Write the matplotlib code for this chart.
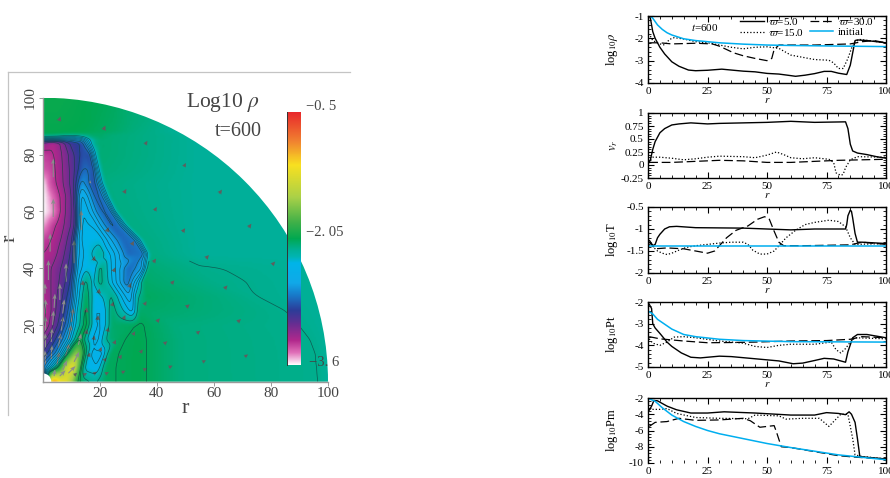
import numpy as np
import matplotlib
matplotlib.use("Agg")
import matplotlib.pyplot as plt
from matplotlib.cm import ScalarMappable
from matplotlib.colors import LinearSegmentedColormap, Normalize
from matplotlib.lines import Line2D
from matplotlib.patches import Wedge
from matplotlib.ticker import AutoMinorLocator, MultipleLocator

plt.rcParams["font.family"] = ["Liberation Serif", "DejaVu Serif"]
plt.rcParams["mathtext.fontset"] = "stix"
plt.rcParams["axes.unicode_minus"] = False

W, H = 890, 478

# density map: for each height, the r positions of 14 features and log10 rho at them
map_y = [0, 5, 10, 15, 20, 25, 30, 35, 40, 45, 50, 55, 60, 65, 70, 75, 80, 84.5, 86, 87.5, 88, 92, 100]
map_pos = [
    [0, 2.5, 4, 6, 8, 10, 12, 14, 18, 22, 33, 48, 97, 100],
    [0, 2, 4, 6, 8, 10, 13, 15, 19, 22, 33, 48, 96.5, 100],
    [0, 2.5, 5, 7, 9, 11.5, 14, 16.5, 20.5, 23.5, 33, 48, 96, 100],
    [0, 3, 6, 8.5, 10.5, 13, 16, 19, 23, 27, 33, 48, 94, 100],
    [0, 3, 6, 9, 11, 15, 18, 21, 24, 31, 34, 46, 90, 100],
    [0, 3, 7, 9.5, 11.5, 15, 18, 21, 24, 31.5, 33.5, 37, 85, 100],
    [0, 3, 7, 10, 11.5, 15, 18, 21, 24, 30.5, 33, 36, 75, 100],
    [0, 3, 7, 10, 11.5, 15, 17.5, 20, 23, 29.5, 33, 35, 60, 100],
    [0, 3, 7, 10.5, 12, 15, 18, 20, 24, 30, 35, 36.5, 55, 100],
    [0, 3, 7, 10.5, 12, 15, 20, 24, 30, 35.5, 36.2, 37.5, 55, 100],
    [0, 3, 7, 10.5, 11.8, 14, 20, 24, 28, 32.3, 33, 35, 55, 100],
    [0, 3, 7, 11, 12.3, 14, 18, 21, 24, 27.3, 28, 30, 55, 100],
    [0, 3, 7, 11, 12.3, 14, 17, 19, 21, 24, 24.5, 26, 55, 100],
    [0, 3, 6.5, 10.5, 12, 13.5, 16, 17.5, 19, 21.3, 22, 23.5, 55, 100],
    [0, 2, 6, 10.5, 12, 13.5, 15.5, 16.5, 17.5, 19.5, 20, 21.5, 55, 100],
    [0, 3, 7, 10.5, 12.5, 14, 16, 16.7, 17.5, 18.5, 19, 20.5, 55, 100],
    [0, 4, 8, 11, 13, 14.5, 15.5, 16, 16.5, 17.5, 18, 19.5, 55, 100],
    [0, 3, 6, 9, 11, 13, 14.5, 15, 16, 17, 17.5, 20, 55, 100],
    [0, 3, 6, 9, 12, 14, 16, 17, 18, 20, 22, 25, 55, 100],
    [0, 3, 6, 9, 12, 14, 16, 17, 18, 20, 22, 25, 55, 100],
    [0, 5, 10, 15, 20, 25, 30, 32, 35, 40, 45, 50, 55, 100],
    [0, 5, 10, 15, 20, 25, 30, 32, 35, 40, 45, 50, 55, 100],
    [0, 5, 10, 15, 20, 25, 30, 32, 35, 40, 45, 50, 55, 100],
]
map_val = [
    [-3.6, -1.0, -0.9, -1.2, -1.25, -1.6, -2.0, -2.12, -2.2, -2.08, -2.05, -2.14, -2.175, -2.2],
    [-2.75, -2.5, -2.2, -1.9, -1.4, -1.2, -1.95, -2.35, -2.4, -2.08, -2.05, -2.14, -2.175, -2.2],
    [-3.0, -2.85, -2.65, -2.35, -2.0, -1.6, -1.95, -2.4, -2.45, -2.08, -2.05, -2.14, -2.175, -2.2],
    [-3.15, -3.0, -2.8, -2.55, -2.25, -1.98, -2.35, -2.45, -2.12, -2.08, -2.05, -2.14, -2.175, -2.2],
    [-3.35, -3.15, -2.95, -2.7, -2.35, -2.0, -2.4, -2.4, -2.1, -2.08, -2.06, -2.14, -2.175, -2.2],
    [-3.35, -3.2, -2.95, -2.75, -2.35, -2.02, -2.4, -2.4, -2.1, -2.45, -2.1, -2.1, -2.175, -2.2],
    [-3.3, -3.2, -3.0, -2.8, -2.45, -2.05, -2.38, -2.3, -2.15, -2.6, -2.2, -2.08, -2.175, -2.2],
    [-3.27, -3.2, -3.05, -2.88, -2.5, -2.12, -2.35, -2.12, -2.3, -2.78, -2.4, -2.1, -2.165, -2.2],
    [-3.27, -3.2, -3.08, -2.92, -2.5, -2.33, -2.38, -2.12, -2.4, -2.8, -2.6, -2.12, -2.17, -2.2],
    [-3.3, -3.27, -3.13, -2.95, -2.55, -2.36, -2.22, -2.42, -2.8, -2.75, -2.45, -2.15, -2.2, -2.2],
    [-3.35, -3.3, -3.18, -3.0, -2.6, -2.36, -2.33, -2.6, -2.8, -2.75, -2.5, -2.15, -2.2, -2.2],
    [-3.5, -3.35, -3.22, -3.05, -2.65, -2.36, -2.42, -2.65, -2.82, -2.75, -2.5, -2.15, -2.2, -2.2],
    [-3.6, -3.5, -3.25, -3.05, -2.7, -2.38, -2.55, -2.72, -2.82, -2.75, -2.5, -2.15, -2.2, -2.2],
    [-3.6, -3.45, -3.28, -3.08, -2.75, -2.45, -2.6, -2.75, -2.85, -2.7, -2.5, -2.15, -2.2, -2.2],
    [-3.58, -3.4, -3.25, -3.05, -2.85, -2.65, -2.75, -2.82, -2.9, -2.65, -2.5, -2.15, -2.2, -2.2],
    [-3.4, -3.35, -3.2, -3.05, -2.9, -2.8, -2.8, -2.85, -2.9, -2.6, -2.45, -2.13, -2.2, -2.2],
    [-3.35, -3.3, -3.15, -3.0, -2.9, -2.85, -2.9, -2.9, -2.85, -2.55, -2.4, -2.12, -2.2, -2.2],
    [-3.2, -3.3, -3.2, -3.0, -2.95, -2.9, -2.75, -2.6, -2.45, -2.25, -2.15, -2.12, -2.2, -2.2],
    [-2.35, -2.35, -2.4, -2.5, -2.45, -2.35, -2.2, -2.15, -2.12, -2.1, -2.12, -2.13, -2.2, -2.2],
    [-2.06, -2.06, -2.08, -2.08, -2.08, -2.1, -2.1, -2.1, -2.1, -2.1, -2.12, -2.13, -2.2, -2.2],
    [-2.04, -2.04, -2.05, -2.06, -2.08, -2.1, -2.13, -2.14, -2.15, -2.17, -2.19, -2.19, -2.2, -2.2],
    [-2.03, -2.03, -2.04, -2.05, -2.07, -2.09, -2.12, -2.13, -2.14, -2.16, -2.18, -2.19, -2.2, -2.2],
    [-2.02, -2.02, -2.03, -2.05, -2.06, -2.08, -2.12, -2.13, -2.14, -2.16, -2.18, -2.19, -2.2, -2.2],
]

# map colours against log10 rho
cmap_vals = [-3.6, -3.45, -3.3, -3.1, -2.93, -2.75, -2.6, -2.35, -2.27, -2.2, -2.05, -1.85, -1.55, -1.15, -0.85, -0.5]
cmap_cols = ["#FFFFFF", "#E070B8", "#B0288C", "#662D91", "#2C3C98", "#1878C8", "#10A8E8", "#00B4E8",
             "#00B4B0", "#00B09A", "#00A850", "#40B048", "#A8D048", "#F8E020", "#F08030", "#E8262B"]
contour_levels = [-3.3, -3.2, -3.1, -3.0, -2.9, -2.8, -2.7, -2.6, -2.5, -2.4, -2.3]
low_contour_levels = [-2.175, -2.07, -2.0]
low_contour_top = 43

# velocity arrows, in r units
stub_x = [5.7, 21.3, 35.9, 49.5, 28.5, 61.9, 39.2, 72.2, 49, 22.5, 31.2, 38.8, 57.2, 80.4, 45.1, 63.7, 24.8, 50.3, 68.3, 40, 54, 70.8, 42.5, 56, 44.2, 35.3, 27.7, 21.9, 17.8, 14.3, 11, 34.2, 26.9, 25, 31.6, 28.3, 24.3, 35.6, 30.4, 17.9, 19.6, 14, 15.2, 19.2, 22.7, 17.8, 15.2, 20.1, 16, 21.5]
stub_y = [91.8, 88.6, 83.5, 75.7, 66.4, 66.3, 60.2, 54.3, 52.7, 52.8, 48.1, 42, 43.4, 41.1, 34.5, 32.7, 38.7, 26.2, 21, 21.1, 17, 8.8, 13.3, 6.9, 5, 4.1, 3.2, 2.7, 2.7, 2.3, 2.2, 10.2, 8.2, 13.3, 16.4, 22, 26.6, 27, 33.2, 42.6, 31.1, 34, 24.4, 21.7, 17.6, 14.7, 16.8, 10.8, 8.8, 7.3]
stub_u = [0.4, 0.5, 0.6, 0.5, 0.6, 0.7, 0.6, 0.7, 0.7, 0.5, 0.6, 0.7, 0.8, 0.8, 0.8, 0.8, 0.5, 0.9, 0.9, 0.8, 0.9, 0.9, 0.9, 0.9, 1.0, 1.0, 1.0, 1.0, 0.9, 0.9, 0.8, 0.7, 0.6, 0.5, 0.6, 0.5, 0.4, 0.6, 0.3, 0.2, 0.2, 0.1, 0.2, 0.2, 0.3, 0.3, 0.2, 0.4, 0.5, 0.7]
stub_v = [1.2, 1.2, 1.0, 1.0, 1.1, 1.0, 1.0, 1.0, 1.0, 1.2, 1.1, 1.0, 0.9, 0.9, 0.9, 0.9, 1.2, 0.8, 0.8, 0.9, 0.7, 0.6, 0.7, 0.5, 0.5, 0.5, 0.5, 0.5, 0.6, 0.6, 0.7, 0.9, 1.0, 1.1, 1.0, 1.1, 1.2, 1.0, 1.2, 1.3, 1.3, 1.3, 1.3, 1.3, 1.2, 1.2, 1.3, 1.1, 1.1, 0.9]
jet_x = [3.7, 3.7, 2.6, 2.0, 0.8, 8.2, 6.0, 11.0, 13.5, 16.6, 1, 1, 1, 1, 3, 3, 3.5, 4, 5, 5.5, 6.5, 7, 7, 8, 9, 10, 6, 9, 11, 12.5, 4]
jet_y = [72, 58, 45.8, 35.8, 31, 35.2, 28.8, 41.7, 53.4, 69.8, 6, 12, 18, 24, 8, 14, 20, 26, 6, 12, 18, 24, 4, 9, 15, 21, 2, 3, 7, 13, 2]
jet_u = [0, 0, 0, 0, 0, 0, 0, 0, 0, 0, -0.2, -0.1, 0, 0, 0.2, 0.2, 0.3, 0.3, 0.8, 0.8, 0.7, 0.6, 1.5, 1.3, 1, 0.8, 2, 2.5, 1.8, 1, 0.3]
jet_v = [6.6, 6.5, 6.4, 7, 3.6, 6.5, 5.8, 8.2, 7, 1.2, 5, 5, 5, 5, 5, 5, 5, 5, 4.5, 5, 5, 5, 3.5, 4.5, 5, 5, 2, 2.5, 3.5, 4, 2.5]

# profile panels: r positions and values per cylindrical radius
r_ticks = [0, 25, 50, 75, 100]

rho_r5 = [0.5, 1, 2, 3, 5, 7, 10, 13, 17, 20, 25, 31, 35, 40, 45, 50, 55, 60, 62, 66, 70, 74, 77, 80, 83.5, 85, 87, 88, 92, 100]
rho_v5 = [-1, -1.1, -1.7, -2.0, -2.4, -2.7, -3.05, -3.25, -3.42, -3.45, -3.43, -3.38, -3.42, -3.47, -3.5, -3.57, -3.6, -3.67, -3.7, -3.65, -3.58, -3.48, -3.48, -3.56, -3.62, -3.2, -2.1, -2.07, -2.1, -2.2]
rho_r15 = [1, 2, 5, 7, 9, 11, 15, 20, 25, 30, 35, 40, 45, 50, 55, 60, 65, 70, 76, 78, 80, 82, 84, 85.5, 87, 89, 100]
rho_v15 = [-1.9, -2.1, -2.25, -2.3, -2.05, -1.97, -2.03, -2.15, -2.2, -2.3, -2.4, -2.47, -2.4, -2.38, -2.45, -2.75, -2.85, -2.95, -2.98, -3.1, -3.35, -3.35, -2.9, -2.45, -2.15, -2.05, -2.2]
rho_r30 = [0.5, 5, 10, 20, 27, 30, 33, 36, 40, 45, 50, 52, 53, 55, 60, 70, 85, 90, 95, 100]
rho_v30 = [-2.2, -2.2, -2.25, -2.22, -2.25, -2.35, -2.5, -2.65, -2.78, -2.9, -3, -2.9, -2.5, -2.3, -2.3, -2.3, -2.25, -2.15, -2.1, -2.2]
rho_r0 = [0.5, 2, 4, 6, 8, 10, 15, 20, 25, 30, 40, 50, 60, 75, 100]
rho_v0 = [-0.95, -1.1, -1.4, -1.6, -1.75, -1.85, -2.02, -2.1, -2.15, -2.2, -2.26, -2.3, -2.32, -2.34, -2.37]

vr_r5 = [0.5, 1, 2, 3, 5, 7, 10, 13, 18, 25, 30, 40, 50, 60, 70, 83, 84, 85, 86, 88, 92, 96, 100]
vr_v5 = [0.05, 0.1, 0.3, 0.45, 0.62, 0.7, 0.77, 0.79, 0.81, 0.79, 0.8, 0.81, 0.82, 0.84, 0.82, 0.83, 0.7, 0.4, 0.27, 0.23, 0.2, 0.16, 0.13]
vr_r15 = [1, 2, 5, 10, 15, 20, 25, 30, 40, 45, 50, 54, 57, 60, 65, 70, 76, 78, 79, 81, 82, 83, 85, 88, 100]
vr_v15 = [0.1, 0.15, 0.15, 0.13, 0.1, 0.12, 0.15, 0.17, 0.16, 0.14, 0.19, 0.25, 0.2, 0.14, 0.12, 0.14, 0.11, 0.05, -0.15, -0.2, -0.18, -0.05, 0.1, 0.16, 0.15]
vr_r30 = [0.5, 10, 20, 30, 40, 50, 60, 70, 80, 90, 100]
vr_v30 = [0.05, 0.05, 0.07, 0.09, 0.08, 0.05, 0.05, 0.07, 0.09, 0.1, 0.11]

t_r5 = [0.5, 2, 3, 4, 5, 7, 9, 12, 20, 40, 50, 60, 70, 83, 83.5, 84, 85, 85.5, 86, 87, 88, 90, 100]
t_v5 = [-1.3, -1.38, -1.35, -1.2, -1.12, -1.0, -0.95, -0.94, -0.97, -0.98, -1.0, -1.02, -1.0, -1.0, -0.9, -0.7, -0.57, -0.6, -0.75, -1.1, -1.3, -1.3, -1.33]
t_r15 = [0.5, 2, 4, 6, 8, 10, 13, 16, 20, 30, 35, 40, 42, 44, 47, 50, 53, 55, 58, 62, 66, 70, 76, 80, 83, 85, 87, 100]
t_v15 = [-1.35, -1.4, -1.5, -1.55, -1.58, -1.55, -1.48, -1.42, -1.38, -1.32, -1.3, -1.3, -1.35, -1.48, -1.57, -1.57, -1.5, -1.38, -1.2, -1.03, -0.9, -0.85, -0.8, -0.83, -0.95, -1.2, -1.35, -1.33]
t_r30 = [0.5, 3, 8, 15, 20, 25, 28, 30, 33, 37, 42, 46, 49, 51, 53, 55, 57, 65, 75, 85, 90, 100]
t_v30 = [-1.25, -1.45, -1.43, -1.45, -1.5, -1.55, -1.5, -1.38, -1.2, -1.03, -0.93, -0.78, -0.72, -0.78, -1.05, -1.3, -1.38, -1.38, -1.37, -1.36, -1.3, -1.35]
t_r0 = [0.5, 100]
t_v0 = [-1.39, -1.39]

pt_r5 = [0.5, 1.5, 2, 3, 5, 8, 10, 14, 18, 22, 30, 35, 45, 55, 61, 65, 70, 74, 78, 83, 84, 86, 88, 92, 100]
pt_v5 = [-2.1, -2.3, -3.0, -3.2, -3.45, -3.85, -4.05, -4.35, -4.55, -4.58, -4.5, -4.52, -4.62, -4.72, -4.85, -4.82, -4.7, -4.6, -4.63, -4.78, -4.3, -3.65, -3.5, -3.5, -3.65]
pt_r15 = [0.5, 2, 5, 8, 11, 15, 20, 30, 40, 45, 50, 55, 60, 70, 77, 79, 81, 83, 85, 87, 100]
pt_v15 = [-3.7, -3.9, -4.0, -3.85, -3.62, -3.6, -3.65, -3.8, -3.9, -4.05, -4.1, -4.0, -3.95, -3.95, -3.85, -4.2, -4.35, -4.15, -3.85, -3.65, -3.7]
pt_r30 = [0.5, 5, 15, 25, 35, 45, 60, 75, 85, 90, 100]
pt_v30 = [-3.6, -3.7, -3.8, -3.88, -3.87, -3.85, -3.8, -3.78, -3.72, -3.6, -3.65]
pt_r0 = [0.5, 2, 4, 6, 8, 10, 15, 20, 30, 40, 60, 100]
pt_v0 = [-2.45, -2.55, -2.8, -2.95, -3.1, -3.25, -3.5, -3.6, -3.72, -3.78, -3.83, -3.85]

pm_r5 = [0.5, 1.5, 2.5, 4, 8, 12, 18, 25, 32, 45, 60, 70, 75, 80, 83, 84.5, 85.5, 87, 88, 89, 92, 100]
pm_v5 = [-3.5, -3, -2.3, -2.35, -3, -3.45, -3.85, -3.85, -3.7, -3.85, -4.1, -4.1, -3.8, -3.9, -4.05, -3.7, -4, -5, -7, -9.2, -9.3, -9.5]
pm_r15 = [0.5, 5, 8, 12, 20, 30, 42, 45, 55, 58, 65, 72, 76, 79, 81, 84, 86, 87, 90, 100]
pm_v15 = [-3.4, -3.4, -3.3, -3.9, -4.4, -4.5, -4.55, -4.1, -4.2, -4.6, -4.5, -4.5, -5.5, -4.6, -4, -4, -7, -9, -9.2, -9.5]
pm_r30 = [0.5, 3, 8, 13, 20, 30, 40, 43, 47, 50, 53, 54, 56, 60, 70, 80, 88, 100]
pm_v30 = [-5.5, -5, -4.9, -4.5, -4.75, -4.7, -4.5, -4.8, -5.6, -5.5, -5.4, -6.2, -8, -8.1, -8.6, -9.1, -9.3, -9.5]
pm_r0 = [0.5, 3, 6, 10, 15, 20, 25, 30, 40, 50, 60, 70, 80, 90, 100]
pm_v0 = [-2.1, -2.4, -3.2, -4.1, -4.9, -5.5, -6, -6.4, -7, -7.6, -8.1, -8.55, -9, -9.3, -9.6]

CYAN = "#00AEEF"
LONG_DASH = (0, (7, 3))
DOTS = (0, (1, 1.6))


def px_axes(fig, left, top, right, bottom):
    return fig.add_axes([left / W, 1 - bottom / H, (right - left) / W, (bottom - top) / H])


def blur(a, n=3):
    # box blur on both axes, twice, so the upsampled map looks continuous
    k = np.ones(n) / n
    p = n // 2
    for _ in range(2):
        for axis in (0, 1):
            pad = [(p, p) if i == axis else (0, 0) for i in (0, 1)]
            b = np.pad(a, pad, mode="edge")
            a = np.apply_along_axis(lambda m: np.convolve(m, k, mode="valid"), axis, b)
    return a


def build_field(fx, fy):
    # the feature positions move between rows, so slanted bands stay slanted
    pos = np.array(map_pos, dtype=float)
    val = np.array(map_val, dtype=float)
    rows = []
    for y in fy:
        p = [np.interp(y, map_y, pos[:, k]) for k in range(pos.shape[1])]
        v = [np.interp(y, map_y, val[:, k]) for k in range(val.shape[1])]
        rows.append(np.interp(fx, p, v))
    return blur(np.array(rows))


def draw_map(fig):
    ax = px_axes(fig, 42.7, 97.7, 328, 381.7)
    norm = Normalize(-3.6, -0.5)
    cmap = LinearSegmentedColormap.from_list(
        "rho", [((v + 3.6) / 3.1, c) for v, c in zip(cmap_vals, cmap_cols)], N=512)

    fx = np.arange(0, 100.25, 0.5)
    fy = np.arange(0, 100.25, 0.5)
    z = build_field(fx, fy)

    wedge = Wedge((0, 0), 100, 0, 90, width=97, transform=ax.transData, fc="none", ec="none")
    ax.add_patch(wedge)
    im = ax.imshow(z, origin="lower", extent=(0, 100, 0, 100), cmap=cmap, norm=norm,
                   interpolation="bilinear", aspect="auto")
    im.set_clip_path(wedge)
    cs = ax.contour(fx, fy, z, levels=contour_levels, colors="#12403f", linewidths=0.5,
                    linestyles="solid", alpha=0.75)
    cs.set_clip_path(wedge)
    low = np.where(fy[:, None] < low_contour_top, z, np.nan)
    cs2 = ax.contour(fx, fy, low, levels=low_contour_levels, colors="#12403f", linewidths=0.5,
                     linestyles="solid", alpha=0.75)
    cs2.set_clip_path(wedge)
    ax.quiver(stub_x, stub_y, stub_u, stub_v, angles="xy", scale_units="xy", scale=0.75,
              color="#5e5e5e", width=0.006, headwidth=3.5, headlength=3.5, headaxislength=3)
    ax.quiver(jet_x, jet_y, jet_u, jet_v, angles="xy", scale_units="xy", scale=1,
              color="#8c8c8c", width=0.004, headwidth=4, headlength=5, headaxislength=4)

    ax.set_xlim(0, 100)
    ax.set_ylim(0, 100)
    for s in ("top", "right"):
        ax.spines[s].set_visible(False)
    for s in ("left", "bottom"):
        ax.spines[s].set_color("#9a9a9a")
        ax.spines[s].set_linewidth(1.0)
    ticks = [20, 40, 60, 80, 100]
    ax.set_xticks(ticks)
    ax.set_yticks(ticks)
    ax.tick_params(axis="both", length=3, width=0.7, color="#9a9a9a", labelsize=11,
                   labelcolor="#444444", pad=1)
    for t in ax.get_yticklabels():
        t.set_rotation(90)
        t.set_va("center")
    ax.set_xlabel("r", fontsize=16, color="#444444", labelpad=-1)
    ax.set_ylabel("r", fontsize=16, color="#444444")
    ax.yaxis.set_label_coords(-0.08, 0.506)

    fig.text(223 / W, 1 - 102 / H, "Log10 $\\rho$", fontsize=15.5, color="#444444", ha="center", va="center")
    fig.text(238 / W, 1 - 131 / H, "t=600", fontsize=14.5, color="#444444", ha="center", va="center")

    cax = px_axes(fig, 287, 112, 301, 365)
    cb = fig.colorbar(ScalarMappable(norm=norm, cmap=cmap), cax=cax)
    cb.outline.set_visible(False)
    cb.set_ticks([])
    fig.add_artist(Line2D([287 / W, 287 / W], [1 - 112 / H, 1 - 365 / H], color="#333333", lw=0.7))
    for y, txt in [(107, "−0. 5"), (233, "−2. 05"), (362, "−3. 6")]:
        fig.text(306 / W if y != 362 else 309 / W, 1 - y / H, txt, fontsize=10.5, color="#444444", va="center")

    # grey frame round the left figure
    fig.add_artist(Line2D([8 / W, 350 / W], [1 - 72 / H, 1 - 72 / H], color="#c4c4c4", lw=0.9))
    fig.add_artist(Line2D([8 / W, 8 / W], [1 - 72 / H, 1 - 415 / H], color="#c4c4c4", lw=0.9))


def draw_profile(fig, top, bottom, ylim, ymajor, ylabel, solid, dots, dash, init=None, yticklabels=None):
    ax = px_axes(fig, 648, top, 886, bottom)
    ax.plot(*solid, color="black", lw=1.0, label="$\\varpi$=5.0")
    ax.plot(*dots, color="black", lw=0.9, ls=DOTS, label="$\\varpi$=15.0")
    ax.plot(*dash, color="black", lw=0.9, ls=LONG_DASH, label="$\\varpi$=30.0")
    if init is not None:
        ax.plot(*init, color=CYAN, lw=1.1, label="initial")
    ax.set_xticks(r_ticks)
    ax.yaxis.set_major_locator(MultipleLocator(ymajor))
    ax.xaxis.set_minor_locator(AutoMinorLocator(5))
    ax.yaxis.set_minor_locator(AutoMinorLocator(5))
    ax.tick_params(which="major", direction="in", top=True, right=True, length=4, width=0.8,
                   labelsize=8, pad=3)
    ax.tick_params(which="minor", direction="in", top=True, right=True, length=2, width=0.6)
    if yticklabels:
        ax.set_yticks(yticklabels[0])
        ax.set_yticklabels(yticklabels[1])
    ax.set_xlim(0, 100)
    ax.set_ylim(*ylim)
    for s in ax.spines.values():
        s.set_linewidth(1.0)
    ax.set_xlabel("$r$", fontsize=8, labelpad=0)
    ax.set_ylabel(ylabel, fontsize=9)
    ax.yaxis.set_label_coords(-0.118, 0.5)
    return ax


fig = plt.figure(figsize=(W / 100, H / 100), dpi=100)
draw_map(fig)

ax1 = draw_profile(fig, 16, 83, (-4, -1), 1, "log$_{10}\\rho$",
                   (rho_r5, rho_v5), (rho_r15, rho_v15), (rho_r30, rho_v30), (rho_r0, rho_v0))
ax1.text(24, -1.5, "$t$=600", fontsize=8, ha="center", va="center")
ax1.legend(ncol=2, loc="upper left", bbox_to_anchor=(0.36, 1.1), frameon=False, fontsize=8,
           handlelength=2.1, labelspacing=0.0, columnspacing=0.5, handletextpad=0.4, borderpad=0.1)

draw_profile(fig, 113, 178, (-0.25, 1), 0.25, "$v_r$",
             (vr_r5, vr_v5), (vr_r15, vr_v15), (vr_r30, vr_v30),
             yticklabels=([-0.25, 0, 0.25, 0.5, 0.75, 1], ["-0.25", "0", "0.25", "0.5", "0.75", "1"]))
draw_profile(fig, 207, 273, (-2, -0.5), 0.5, "log$_{10}$T",
             (t_r5, t_v5), (t_r15, t_v15), (t_r30, t_v30), (t_r0, t_v0),
             yticklabels=([-2, -1.5, -1, -0.5], ["-2", "-1.5", "-1", "-0.5"]))
draw_profile(fig, 302, 367, (-5, -2), 1, "log$_{10}$Pt",
             (pt_r5, pt_v5), (pt_r15, pt_v15), (pt_r30, pt_v30), (pt_r0, pt_v0))
ax5 = draw_profile(fig, 398, 463, (-10, -2), 2, "log$_{10}$Pm",
                   (pm_r5, pm_v5), (pm_r15, pm_v15), (pm_r30, pm_v30), (pm_r0, pm_v0))
ax5.spines["bottom"].set_visible(False)

fig.savefig("out.png", dpi=100)
